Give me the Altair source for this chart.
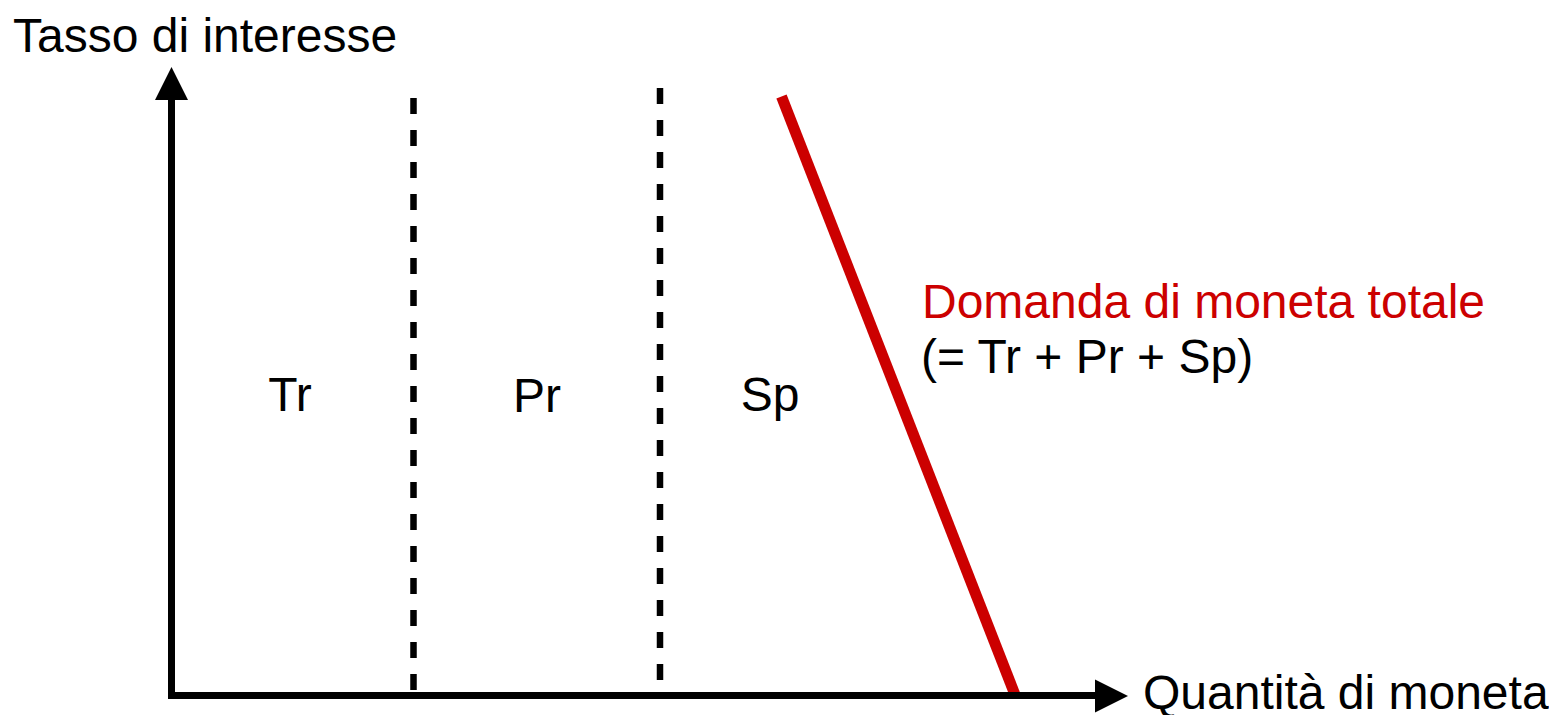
import altair as alt
import pandas as pd

# ---- data (quantity of money on x, interest rate on y; origin = axes corner) ----
# axes extents and arrowheads
axis_x_end = 92.35        # x-axis shaft end (quantity)
axis_y_end = 59.55        # y-axis shaft end (interest rate)
axis_start = -0.35
arrow_x_center = [94.0, -0.05]
arrow_y_center = [0.0, 61.2]

# dashed separators (Tr | Pr | Sp)
sep_x = [24.2, 48.85]
sep_top = [59.75, 60.75]
sep_bottom = [0.55, 1.55]

# total money demand line
demand_x = [61.0, 84.4]
demand_y = [59.9, -0.05]

# labels
label_text = ["Tasso di interesse", "Quantità di moneta", "Tr", "Pr", "Sp",
              "Domanda di moneta totale", "(= Tr + Pr + Sp)"]
label_x = [-15.85, 97.15, 11.85, 36.55, 59.85, 75.05, 74.95]
label_y = [64.35, -1.35, 28.45, 28.35, 28.45, 37.75, 32.25]
label_align = ["left", "left", "center", "center", "center", "left", "left"]
label_color = ["#000000", "#000000", "#000000", "#000000", "#000000", "#CC0000", "#000000"]

RED = "#CC0000"
FONT = "Liberation Sans"

xs = alt.Scale(domain=[-16.35, 137.75], nice=False, zero=False)
ys = alt.Scale(domain=[-1.95, 68.75], nice=False, zero=False)

def X(field="x"):
    return alt.X(f"{field}:Q", scale=xs, axis=None)

def Y(field="y"):
    return alt.Y(f"{field}:Q", scale=ys, axis=None)

# separators
sep_df = pd.DataFrame({"x": sep_x, "y": sep_top, "y2": sep_bottom})
seps = alt.Chart(sep_df).mark_rule(color="black", strokeWidth=6.5, strokeDash=[16, 16]).encode(
    x=X(), y=Y(), y2="y2:Q")

# demand line
dem_df = pd.DataFrame({"x": [demand_x[0]], "x2": [demand_x[1]], "y": [demand_y[0]], "y2": [demand_y[1]]})
demand = alt.Chart(dem_df).mark_rule(color=RED, strokeWidth=11, strokeCap="butt").encode(
    x=X(), x2="x2:Q", y=Y(), y2="y2:Q")

# axes shafts
yaxis_df = pd.DataFrame({"x": [0.0], "y": [axis_start], "y2": [axis_y_end]})
yaxis = alt.Chart(yaxis_df).mark_rule(color="black", strokeWidth=7).encode(
    x=X(), y=Y(), y2="y2:Q")
xaxis_df = pd.DataFrame({"x": [axis_start], "x2": [axis_x_end], "y": [0.0]})
xaxis = alt.Chart(xaxis_df).mark_rule(color="black", strokeWidth=7).encode(
    x=X(), x2="x2:Q", y=Y())

# arrowheads
arr_up_df = pd.DataFrame({"x": [arrow_y_center[0]], "y": [arrow_y_center[1]]})
arr_up = alt.Chart(arr_up_df).mark_point(
    shape="M0,-1L1,1L-1,1Z", size=1089, filled=True, color="black", opacity=1, strokeWidth=0
).encode(x=X(), y=Y())
arr_right_df = pd.DataFrame({"x": [arrow_x_center[0]], "y": [arrow_x_center[1]]})
arr_right = alt.Chart(arr_right_df).mark_point(
    shape="M1,0L-1,1L-1,-1Z", size=1089, filled=True, color="black", opacity=1, strokeWidth=0
).encode(x=X(), y=Y())

# labels
lab_df = pd.DataFrame({"text": label_text, "x": label_x, "y": label_y,
                       "align": label_align, "color": label_color})
texts = []
for al in ["left", "center"]:
    texts.append(
        alt.Chart(lab_df[lab_df["align"] == al]).mark_text(
            font=FONT, fontSize=48, align=al, baseline="alphabetic"
        ).encode(x=X(), y=Y(), text="text:N", color=alt.Color("color:N", scale=None))
    )

chart = alt.layer(seps, demand, yaxis, xaxis, arr_up, arr_right, *texts).properties(
    width=1541, height=707, padding=0, autosize="none", background="white"
).configure_view(strokeWidth=0)

chart.save("out.html", embed_options={"renderer": "svg", "actions": False})
